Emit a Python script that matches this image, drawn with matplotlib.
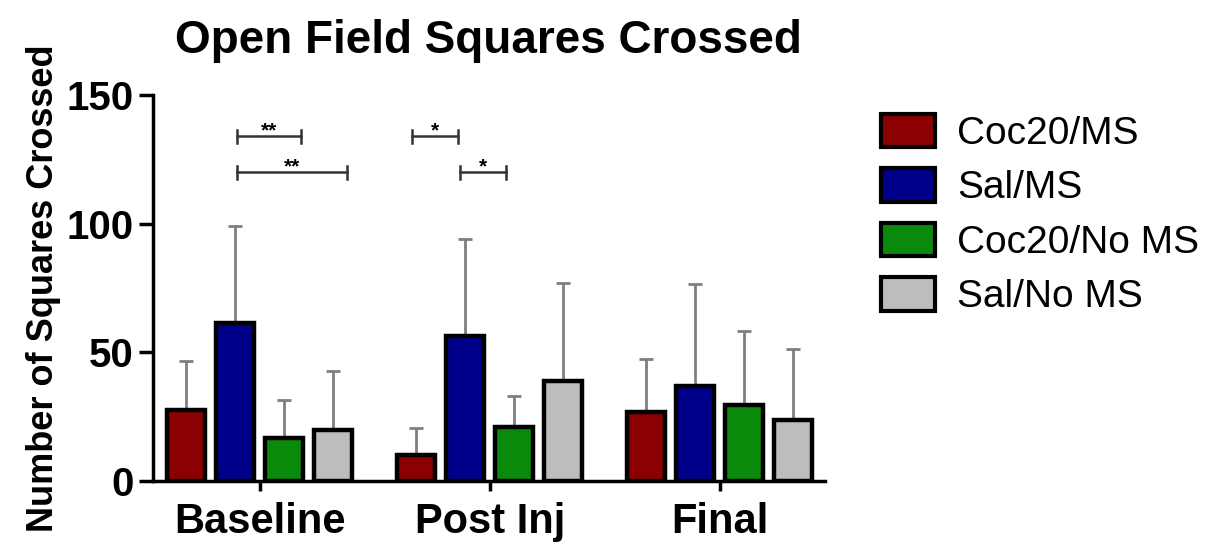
import numpy as np
import matplotlib.pyplot as plt
from matplotlib.patches import Patch

plt.rcParams['font.family'] = ['Liberation Sans', 'DejaVu Sans']

groups = ['Baseline', 'Post Inj', 'Final']
series = ['Coc20/MS', 'Sal/MS', 'Coc20/No MS', 'Sal/No MS']
colors = ['#8b0000', '#00008b', '#0a8a0a', '#bdbdbd']

means = [
    [27.4, 10.0, 26.7],   # Coc20/MS
    [61.5, 56.4, 37.1],   # Sal/MS
    [16.6, 20.9, 29.4],   # Coc20/No MS
    [19.7, 39.0, 23.6],   # Sal/No MS
]
err_tops = [
    [46.8, 20.5, 47.5],
    [99.0, 94.0, 76.5],
    [31.3, 33.2, 58.4],
    [42.9, 77.0, 51.4],
]

# significance brackets: (x start, x end, y, label)
sig_x1 = [-0.10, -0.10, 0.66, 0.87]
sig_x2 = [0.18, 0.38, 0.86, 1.07]
sig_y = [134, 120, 134, 120]
sig_lab = ['**', '**', '*', '*']

fig = plt.figure(figsize=(12.26, 5.43), dpi=100)
ax = fig.add_axes([0.1248, 0.1142, 0.548, 0.711])

x = np.arange(len(groups))
pitch = 0.213
width = 0.165
for i, s in enumerate(series):
    pos = x + (i - 1.5) * pitch
    m = np.array(means[i])
    e = np.array(err_tops[i]) - m
    ax.errorbar(pos, m, yerr=[np.zeros_like(e), e], fmt='none',
                ecolor='#7f7f7f', elinewidth=2, capsize=5, capthick=2, zorder=1)
    ax.bar(pos, m, width=width, color=colors[i], edgecolor='black',
           linewidth=3.2, zorder=2, label=s)

for x1, x2, yv, lab in zip(sig_x1, sig_x2, sig_y, sig_lab):
    ax.plot([x1, x2], [yv, yv], color='#333333', lw=1.8)
    ax.plot([x1, x1], [yv - 2.5, yv + 2.5], color='#333333', lw=1.8)
    ax.plot([x2, x2], [yv - 2.5, yv + 2.5], color='#333333', lw=1.8)
    ax.text((x1 + x2) / 2, yv - 1.5, lab, ha='center', va='bottom',
            fontsize=15, fontweight='bold')

ax.set_xlim(-0.465, 2.457)
ax.set_ylim(0, 150)
ax.set_yticks([0, 50, 100, 150])
ax.set_xticks(x)
ax.set_xticklabels(groups, fontsize=30, fontweight='bold')
ax.tick_params(axis='y', labelsize=29, width=2.5, length=10, pad=4)
ax.tick_params(axis='x', width=2.5, length=7, pad=8)
for lbl in ax.get_yticklabels():
    lbl.set_fontweight('bold')
for side in ['top', 'right']:
    ax.spines[side].set_visible(False)
for side in ['left', 'bottom']:
    ax.spines[side].set_linewidth(2.5)

ax.set_ylabel('Number of Squares Crossed', fontsize=26, fontweight='bold', labelpad=4)
ax.set_title('Open Field Squares Crossed', fontsize=33, fontweight='bold', pad=30)

handles = [Patch(facecolor=c, edgecolor='black', linewidth=3, label=s)
           for c, s in zip(colors, series)]
fig.legend(handles=handles, loc='upper left', bbox_to_anchor=(0.69, 0.855),
           frameon=False, fontsize=28, handlelength=1.4, handleheight=0.95,
           labelspacing=0.42, handletextpad=0.55)

fig.savefig('out.png', dpi=100)
